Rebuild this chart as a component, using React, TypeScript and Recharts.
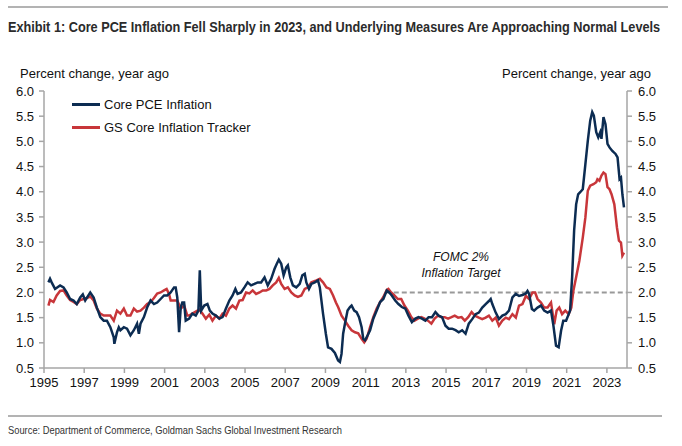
import React from 'react';
import { LineChart, Line, XAxis, YAxis, Legend } from 'recharts';

if (typeof document !== 'undefined') document.body.style.margin = '0';

// Core PCE inflation, % yoy
const pceDates = [
  1995.22, 1995.3, 1995.38, 1995.55, 1995.8, 1995.97, 1996.13, 1996.3, 1996.47, 1996.63, 1996.8, 1996.93,
  1997.05, 1997.3, 1997.47, 1997.63, 1997.8, 1997.97, 1998.13, 1998.3, 1998.47, 1998.5, 1998.63, 1998.72,
  1998.8, 1998.97, 1999.13, 1999.3, 1999.47, 1999.63, 1999.72, 1999.8, 1999.97, 2000.13, 2000.3, 2000.47,
  2000.63, 2000.8, 2000.97, 2001.13, 2001.3, 2001.47, 2001.55, 2001.63, 2001.72, 2001.8, 2001.88, 2001.97,
  2002.05, 2002.22, 2002.38, 2002.55, 2002.68, 2002.75, 2002.82, 2002.97, 2003.13, 2003.25, 2003.38, 2003.55,
  2003.72, 2003.88, 2004.05, 2004.22, 2004.38, 2004.52, 2004.63, 2004.8, 2004.97, 2005.13, 2005.3, 2005.47,
  2005.63, 2005.8, 2005.97, 2006.13, 2006.3, 2006.47, 2006.58, 2006.68, 2006.8, 2006.92, 2007.05, 2007.13,
  2007.25, 2007.38, 2007.55, 2007.72, 2007.85, 2007.97, 2008.05, 2008.18, 2008.3, 2008.47, 2008.63, 2008.72,
  2008.88, 2009.02, 2009.13, 2009.3, 2009.47, 2009.63, 2009.72, 2009.8, 2009.88, 2009.97, 2010.1, 2010.22,
  2010.3, 2010.43, 2010.55, 2010.67, 2010.8, 2010.88, 2010.97, 2011.1, 2011.22, 2011.38, 2011.55, 2011.72,
  2011.88, 2012.05, 2012.17, 2012.3, 2012.47, 2012.63, 2012.8, 2012.97, 2013.13, 2013.3, 2013.47, 2013.63,
  2013.8, 2013.97, 2014.13, 2014.3, 2014.47, 2014.63, 2014.8, 2014.97, 2015.13, 2015.3, 2015.47, 2015.63,
  2015.8, 2015.97, 2016.13, 2016.3, 2016.47, 2016.63, 2016.8, 2016.97, 2017.13, 2017.22, 2017.3, 2017.47,
  2017.63, 2017.8, 2017.97, 2018.13, 2018.3, 2018.47, 2018.63, 2018.8, 2018.97, 2019.05, 2019.13, 2019.27,
  2019.38, 2019.55, 2019.72, 2019.88, 2020.05, 2020.22, 2020.33, 2020.47, 2020.6, 2020.72, 2020.83, 2020.97,
  2021.1, 2021.17, 2021.27, 2021.37, 2021.47, 2021.57, 2021.67, 2021.8, 2021.93, 2022.05, 2022.17, 2022.27,
  2022.35, 2022.47, 2022.57, 2022.67, 2022.73, 2022.83, 2022.93, 2023.03, 2023.13, 2023.27, 2023.43, 2023.53,
  2023.63, 2023.7, 2023.77, 2023.85,
];
const pceValues = [
  2.2, 2.27, 2.2, 2.07, 2.14, 2.1, 2.0, 1.87, 1.84, 1.77, 1.9, 1.96,
  1.84, 2.0, 1.9, 1.7, 1.51, 1.44, 1.44, 1.31, 1.11, 0.98, 1.21, 1.31,
  1.25, 1.31, 1.28, 1.15, 1.25, 1.38, 1.18, 1.38, 1.51, 1.7, 1.84, 1.77,
  1.8, 1.87, 1.94, 1.94, 2.0, 2.1, 2.1, 1.9, 1.21, 1.7, 1.8, 1.8,
  1.44, 1.48, 1.58, 1.54, 1.64, 2.44, 1.64, 1.74, 1.77, 1.64, 1.58, 1.54,
  1.48, 1.51, 1.68, 1.84, 1.94, 2.07, 1.97, 2.0, 2.1, 2.2, 2.14, 2.17,
  2.2, 2.2, 2.3, 2.14, 2.27, 2.47, 2.57, 2.65, 2.57, 2.34, 2.5, 2.54,
  2.3, 2.14, 2.1, 2.17, 2.34, 2.37, 2.2, 2.07, 2.17, 2.2, 2.24, 2.1,
  1.58, 1.18, 0.91, 0.88, 0.8, 0.65, 0.62, 0.78, 1.18, 1.38, 1.64, 1.71,
  1.74, 1.64, 1.61, 1.51, 1.31, 1.08, 1.05, 1.15, 1.25, 1.48, 1.64, 1.81,
  1.87, 2.04, 2.0, 1.94, 1.84, 1.77, 1.71, 1.68, 1.54, 1.41, 1.48, 1.51,
  1.48, 1.44, 1.51, 1.51, 1.61, 1.54, 1.51, 1.34, 1.28, 1.28, 1.25, 1.21,
  1.25, 1.18, 1.38, 1.47, 1.57, 1.6, 1.7, 1.77, 1.83, 1.87, 1.77, 1.6,
  1.47, 1.54, 1.57, 1.64, 1.9, 1.97, 1.93, 1.95, 1.98, 2.03, 1.97, 1.67,
  1.64, 1.7, 1.74, 1.64, 1.6, 1.64, 1.37, 0.94, 0.91, 1.24, 1.44, 1.44,
  1.57, 1.64, 2.3, 3.23, 3.75, 3.95, 3.99, 4.05, 4.55, 5.01, 5.41, 5.58,
  5.51, 5.18, 5.08, 5.18, 5.05, 5.48, 5.34, 4.95, 4.88, 4.81, 4.75, 4.68,
  4.25, 4.28, 3.95, 3.69,
];

// GS core inflation tracker, % yoy
const trackerDates = [
  1995.22, 1995.3, 1995.47, 1995.63, 1995.8, 1995.97, 1996.13, 1996.3, 1996.47, 1996.63, 1996.8, 1996.97,
  1997.13, 1997.3, 1997.47, 1997.63, 1997.8, 1997.97, 1998.13, 1998.3, 1998.47, 1998.63, 1998.8, 1998.97,
  1999.13, 1999.3, 1999.47, 1999.63, 1999.8, 1999.97, 2000.13, 2000.3, 2000.47, 2000.63, 2000.8, 2000.97,
  2001.1, 2001.22, 2001.3, 2001.47, 2001.63, 2001.8, 2001.97, 2002.13, 2002.22, 2002.38, 2002.55, 2002.72,
  2002.88, 2003.05, 2003.22, 2003.38, 2003.55, 2003.72, 2003.88, 2004.05, 2004.22, 2004.38, 2004.55, 2004.72,
  2004.88, 2005.05, 2005.22, 2005.38, 2005.55, 2005.72, 2005.88, 2006.05, 2006.22, 2006.38, 2006.55, 2006.68,
  2006.8, 2006.97, 2007.13, 2007.3, 2007.47, 2007.63, 2007.8, 2007.97, 2008.13, 2008.3, 2008.55, 2008.72,
  2008.88, 2009.05, 2009.22, 2009.38, 2009.52, 2009.63, 2009.8, 2009.97, 2010.13, 2010.3, 2010.47, 2010.63,
  2010.8, 2010.93, 2011.05, 2011.22, 2011.38, 2011.55, 2011.72, 2011.88, 2012.05, 2012.13, 2012.27, 2012.43,
  2012.6, 2012.77, 2012.93, 2013.1, 2013.27, 2013.43, 2013.6, 2013.77, 2013.93, 2014.1, 2014.27, 2014.43,
  2014.6, 2014.77, 2014.93, 2015.1, 2015.27, 2015.43, 2015.6, 2015.77, 2015.93, 2016.1, 2016.27, 2016.43,
  2016.63, 2016.8, 2016.97, 2017.13, 2017.3, 2017.47, 2017.63, 2017.8, 2017.97, 2018.13, 2018.3, 2018.47,
  2018.63, 2018.8, 2018.97, 2019.13, 2019.3, 2019.43, 2019.55, 2019.72, 2019.88, 2020.05, 2020.22, 2020.38,
  2020.5, 2020.63, 2020.77, 2020.93, 2021.1, 2021.23, 2021.33, 2021.47, 2021.63, 2021.8, 2021.93, 2022.05,
  2022.17, 2022.33, 2022.47, 2022.53, 2022.63, 2022.73, 2022.83, 2022.93, 2023.03, 2023.13, 2023.23, 2023.37,
  2023.5, 2023.6, 2023.7, 2023.77, 2023.85,
];
const trackerValues = [
  1.74, 1.85, 1.81, 1.94, 2.03, 2.04, 1.94, 1.85, 1.81, 1.77, 1.85, 1.87,
  1.89, 1.92, 1.84, 1.68, 1.58, 1.54, 1.54, 1.54, 1.44, 1.64, 1.58, 1.68,
  1.54, 1.54, 1.68, 1.62, 1.64, 1.7, 1.77, 1.81, 1.89, 1.98, 2.0, 2.04,
  2.07, 1.97, 1.84, 1.84, 1.84, 1.68, 1.74, 1.54, 1.54, 1.58, 1.62, 1.66,
  1.58, 1.48, 1.56, 1.44, 1.54, 1.48, 1.58, 1.54, 1.68, 1.74, 1.68, 1.84,
  1.85, 2.0, 1.98, 2.04, 1.97, 2.0, 2.04, 2.04, 2.07, 2.14, 2.2, 2.29,
  2.17, 2.07, 2.1, 2.0, 1.94, 1.91, 1.94, 2.07, 2.1, 2.2, 2.24, 2.27,
  2.2, 2.1, 2.07, 1.94, 1.8, 1.71, 1.54, 1.44, 1.34, 1.25, 1.21, 1.19,
  1.08, 1.01, 1.08, 1.31, 1.51, 1.68, 1.81, 1.91, 2.05, 2.07, 2.0, 1.94,
  1.87, 1.87, 1.74, 1.64, 1.51, 1.44, 1.48, 1.51, 1.48, 1.44, 1.38, 1.48,
  1.54, 1.51, 1.51, 1.48, 1.51, 1.54, 1.5, 1.51, 1.44, 1.51, 1.61, 1.54,
  1.5, 1.47, 1.5, 1.54, 1.44, 1.5, 1.34, 1.44, 1.5, 1.47, 1.57, 1.5,
  1.74, 1.77, 1.93, 1.87, 2.0, 2.0, 1.87, 1.8, 1.7, 1.7, 1.8, 1.37,
  1.64, 1.7, 1.57, 1.64, 1.57, 1.7, 2.03, 2.3, 2.63, 3.09, 3.49, 4.02,
  4.12, 4.15, 4.19, 4.25, 4.22, 4.32, 4.38, 4.35, 4.09, 4.05, 3.95, 3.75,
  3.29, 3.03, 2.99, 2.73, 2.79,
];

// FOMC 2% target segment
const targetDates = [2012, 2024];
const targetValues = [2, 2];

const yearTicks = [1995, 1997, 1999, 2001, 2003, 2005, 2007, 2009, 2011, 2013, 2015, 2017, 2019, 2021, 2023];
const pctTicks = [0.5, 1.0, 1.5, 2.0, 2.5, 3.0, 3.5, 4.0, 4.5, 5.0, 5.5, 6.0];

const pceData = pceDates.map((d, i) => ({ date: d, value: pceValues[i] }));
const trackerData = trackerDates.map((d, i) => ({ date: d, value: trackerValues[i] }));
const targetData = targetDates.map((d, i) => ({ date: d, value: targetValues[i] }));

const NAVY = '#0c2c52';
const RED = '#c8363a';
const AXIS = '#a6a6a6';
const FONT = '"Liberation Sans", Arial, sans-serif';
const TARGET_NAME = 'FOMC 2% target';

// legend as plain html rows; the target segment is left out
const renderLegend = ({ payload }: any) => (
  <div style={{ fontFamily: FONT, fontSize: 13, color: '#111', lineHeight: '23px' }}>
    {(payload || [])
      .filter((p: any) => p.type !== 'none' && p.value !== TARGET_NAME)
      .map((p: any) => (
        <div key={p.value} style={{ display: 'flex', alignItems: 'center', whiteSpace: 'nowrap' }}>
          <span style={{ display: 'inline-block', width: 28, height: 3, background: p.color, marginRight: 4 }} />
          <span>{p.value}</span>
        </div>
      ))}
  </div>
);

export default function App() {
  const tickStyle = { fontSize: 13, fill: '#111', fontFamily: FONT };
  return (
    <div style={{ position: 'relative', width: 682, height: 446, background: '#fff' }}>
      <LineChart width={682} height={446} margin={{ top: 91, right: 15, left: 8, bottom: 48 }}>
        <XAxis
          dataKey="date"
          type="number"
          domain={[1995, 2024]}
          ticks={yearTicks}
          allowDataOverflow
          height={30}
          stroke={AXIS}
          strokeWidth={1.5}
          tickSize={5}
          tickMargin={5}
          tick={tickStyle}
        />
        <YAxis
          yAxisId="left"
          domain={[0.5, 6]}
          ticks={pctTicks}
          width={36}
          stroke={AXIS}
          strokeWidth={1.5}
          tickSize={5}
          tickMargin={5}
          tick={tickStyle}
          tickFormatter={(v) => v.toFixed(1)}
        />
        <YAxis
          yAxisId="right"
          orientation="right"
          domain={[0.5, 6]}
          ticks={pctTicks}
          width={40}
          stroke={AXIS}
          strokeWidth={1.5}
          tickSize={5}
          tickMargin={6}
          tick={tickStyle}
          tickFormatter={(v) => v.toFixed(1)}
        />
        <Legend
          content={renderLegend}
          layout="horizontal"
          verticalAlign="middle"
          align="center"
          wrapperStyle={{ position: 'absolute', left: 72, top: 93, width: 220, height: 'auto' }}
        />
        <Line
          yAxisId="right"
          data={targetData}
          dataKey="value"
          name={TARGET_NAME}
          stroke="#999"
          strokeWidth={2}
          strokeDasharray="5 3"
          dot={false}
          legendType="none"
          isAnimationActive={false}
        />
        <Line
          yAxisId="left"
          data={trackerData}
          dataKey="value"
          name="GS Core Inflation Tracker"
          stroke={RED}
          strokeWidth={2.5}
          dot={false}
          isAnimationActive={false}
        />
        <Line
          yAxisId="left"
          data={pceData}
          dataKey="value"
          name="Core PCE Inflation"
          stroke={NAVY}
          strokeWidth={2.5}
          dot={false}
          isAnimationActive={false}
        />
      </LineChart>
      <svg width={682} height={446} style={{ position: 'absolute', left: 0, top: 0, pointerEvents: 'none' }}>
        <line x1={8} x2={668} y1={7} y2={7} stroke="#9a9a9a" strokeWidth={1.5} />
        <g transform="translate(8, 32) scale(0.848, 1)">
          <text x={0} y={0} fontSize={15} fontWeight="bold" fill="#2b2b2b" fontFamily={FONT}>
            Exhibit 1: Core PCE Inflation Fell Sharply in 2023, and Underlying Measures Are Approaching Normal Levels
          </text>
        </g>
        <text x={20} y={78} fontSize={13} fill="#111" fontFamily={FONT}>Percent change, year ago</text>
        <text x={651} y={78} fontSize={13} fill="#111" fontFamily={FONT} textAnchor="end">Percent change, year ago</text>
        <text x={461} y={261} fontSize={12} fontStyle="italic" fill="#111" fontFamily={FONT} textAnchor="middle">FOMC 2%</text>
        <text x={461} y={277} fontSize={12} fontStyle="italic" fill="#111" fontFamily={FONT} textAnchor="middle">Inflation Target</text>
        <line x1={8} x2={662} y1={416} y2={416} stroke="#9a9a9a" strokeWidth={1.5} />
        <g transform="translate(8, 434) scale(0.85, 1)">
          <text x={0} y={0} fontSize={11} fill="#333" fontFamily={FONT}>
            Source: Department of Commerce, Goldman Sachs Global Investment Research
          </text>
        </g>
      </svg>
    </div>
  );
}
